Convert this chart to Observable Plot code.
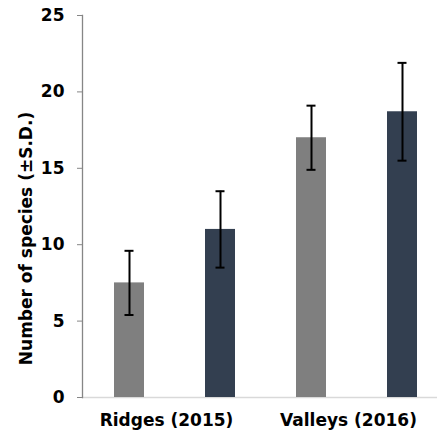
<!DOCTYPE html>
<html>
<head>
<meta charset="utf-8">
<script src="https://cdn.jsdelivr.net/npm/d3@7"></script>
<script src="https://cdn.jsdelivr.net/npm/@observablehq/plot@0.6"></script>
<style>
  html, body { margin: 0; padding: 0; background: #fff; }
  #chart svg { display: block; }
</style>
</head>
<body>
<div id="chart"></div>
<script>
// Data
const groups = ["Ridges (2015)", "Valleys (2016)"];
const series = ["A", "B"];
const seriesColors = ["#7f7f7f", "#333f50"];
const meansA = [7.5, 17.0];
const meansB = [11.0, 18.7];
const sdA = [2.1, 2.1];
const sdB = [2.5, 3.2];
const yTicks = [0, 5, 10, 15, 20, 25];
const yLabel = "Number of species (±S.D.)";

const rows = [];
groups.forEach((g, i) => {
  rows.push({group: g, series: "A", key: g + "|A", mean: meansA[i], sd: sdA[i]});
  rows.push({group: g, series: "B", key: g + "|B", mean: meansB[i], sd: sdB[i]});
});
const keys = rows.map(d => d.key);

const font = "'DejaVu Sans', sans-serif";

const chart = Plot.plot({
  width: 437,
  height: 434,
  marginLeft: 82,
  marginRight: 0,
  marginTop: 15,
  marginBottom: 37,
  style: {fontFamily: font, background: "#fff"},
  x: {type: "band", domain: keys, range: [83.5, 447.5], paddingInner: 0.67, paddingOuter: 0.335},
  y: {domain: [0, 25]},
  color: {domain: series, range: seriesColors},
  marks: [
    Plot.ruleY([0], {stroke: "#d9d9d9", strokeWidth: 1.5}),
    Plot.barY(rows, {x: "key", y: "mean", fill: "series"}),
    Plot.ruleX(rows, {x: "key", y1: d => d.mean - d.sd, y2: d => d.mean + d.sd, stroke: "#000", strokeWidth: 2}),
    Plot.tickY(rows, {x: "key", y: d => d.mean - d.sd, stroke: "#000", strokeWidth: 2, insetLeft: 10.5, insetRight: 10.5}),
    Plot.tickY(rows, {x: "key", y: d => d.mean + d.sd, stroke: "#000", strokeWidth: 2, insetLeft: 10.5, insetRight: 10.5}),
    Plot.frame({anchor: "left", stroke: "#868686", strokeWidth: 1.3}),
    Plot.axisY({ticks: yTicks, tickSize: 5, tickPadding: 13, stroke: "#868686", fill: "#000",
      fontSize: 17, fontWeight: "bold", label: null}),
    Plot.axisX({ticks: groups.map(g => g + "|A"), tickFormat: d => d.split("|")[0], tickSize: 0, tickPadding: 16,
      dx: 37, fill: "#000", fontSize: 17, fontWeight: "bold", label: null}),
    Plot.text([yLabel], {frameAnchor: "left", textAnchor: "middle", lineAnchor: "middle", rotate: -90, dx: -56, dy: 32, text: d => d,
      fontSize: 17, fontWeight: "bold", fill: "#000"})
  ]
});
document.getElementById("chart").appendChild(chart);
</script>
</body>
</html>
